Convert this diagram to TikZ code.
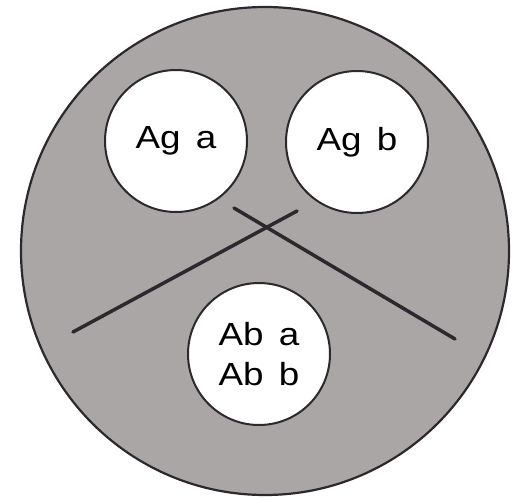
\documentclass[tikz,border=0pt]{standalone}
\usepackage{fontspec}
\setmainfont{Liberation Sans}[FakeStretch=1.15,WordSpace=1.5]
\definecolor{plategray}{RGB}{170,166,166}
\definecolor{inkline}{RGB}{45,40,45}
\begin{document}
\begin{tikzpicture}[x=1pt, y=-1pt, every node/.style={circle, draw=inkline, line width=2pt, fill=white, minimum size=142pt, inner sep=0pt, align=center, font=\fontsize{32}{40}\selectfont}]
                    \useasboundingbox (0,0) rectangle (523,501);
                    \draw[draw=inkline, line width=2.2pt, fill=plategray] (265,251) circle (244);
                    \node (aga) at (176,141) {Ag a};
                    \node (agb) at (357,142) {Ag b};
                    \node (abab) at (259,354) {Ab a\\Ab b};
                    \coordinate (l1s) at (234,208);
                    \coordinate (l1e) at (455,339);
                    \coordinate (l2s) at (297,211);
                    \coordinate (l2e) at (73,332);
                    \draw[inkline, line width=3.5pt, line cap=round] (l1s) -- (l1e);
                    \draw[inkline, line width=3.5pt, line cap=round] (l2s) -- (l2e);
                \end{tikzpicture}
\end{document}
